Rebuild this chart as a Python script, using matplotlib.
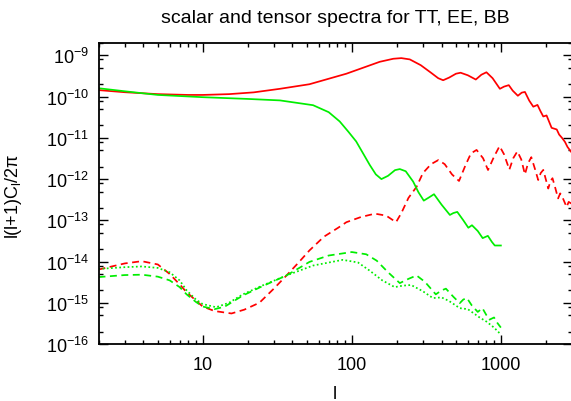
import matplotlib
matplotlib.use("Agg")
import matplotlib.pyplot as plt
import matplotlib.ticker as ticker
import numpy as np

plt.rcParams['font.family'] = ['Liberation Sans', 'DejaVu Sans']
plt.rcParams['mathtext.fontset'] = 'custom'
plt.rcParams['mathtext.rm'] = 'Liberation Sans'
plt.rcParams['mathtext.it'] = 'Liberation Sans:italic'
plt.rcParams['axes.unicode_minus'] = False

# scalar TT (red solid)
l_stt = [2, 3, 5, 8, 10, 15, 22, 33, 52, 92, 154, 190, 215, 245, 290, 340, 380, 410,
         450, 500, 537, 600, 679, 740, 800, 880, 985, 1050, 1130, 1200, 1300, 1380,
         1450, 1550, 1650, 1760, 1840, 1925, 2025, 2190, 2370, 2460, 2570, 2690, 2800, 3000]
c_stt = [1.44e-10, 1.28e-10, 1.15e-10, 1.1e-10, 1.1e-10, 1.15e-10, 1.27e-10, 1.55e-10,
         2.0e-10, 3.6e-10, 7.0e-10, 8.3e-10, 8.6e-10, 8.0e-10, 5.8e-10, 3.8e-10, 2.8e-10,
         2.5e-10, 2.9e-10, 3.6e-10, 3.8e-10, 3.3e-10, 2.6e-10, 3.4e-10, 3.9e-10, 2.8e-10,
         1.55e-10, 1.75e-10, 1.9e-10, 1.4e-10, 1.05e-10, 1.25e-10, 1.3e-10, 8e-11, 5.7e-11,
         6.3e-11, 4.5e-11, 3.3e-11, 3.5e-11, 1.75e-11, 1.6e-11, 1.2e-11, 1.0e-11, 8e-12,
         6e-12, 4.3e-12]

# scalar EE (red dashed)
l_see = [2, 3, 3.9, 5, 6, 7, 7.8, 10, 12, 15.6, 19, 24, 30, 36.5, 44, 52, 65, 81, 92,
         115, 143, 170, 198, 215, 240, 272, 300, 340, 381, 420, 470, 524, 580, 630, 687,
         760, 820, 900, 980, 1050, 1140, 1210, 1290, 1370, 1450, 1520, 1600, 1690, 1780,
         1850, 1925, 2000, 2080, 2150, 2220, 2320, 2420, 2500, 2600, 2760, 2850, 3000]
c_see = [6.4e-15, 9e-15, 1.02e-14, 8.5e-15, 5e-15, 2.8e-15, 1.8e-15, 8.1e-16, 6.3e-16,
         5.5e-16, 6.8e-16, 1.0e-15, 2.2e-15, 4.6e-15, 9.5e-15, 1.86e-14, 4e-14, 6.6e-14,
         9e-14, 1.2e-13, 1.45e-13, 1.3e-13, 9e-14, 1.5e-13, 3.5e-13, 6.5e-13, 1.4e-12,
         2.3e-12, 2.9e-12, 2.3e-12, 1.3e-12, 9e-13, 2.2e-12, 4.2e-12, 5.1e-12, 3.2e-12,
         1.66e-12, 3.5e-12, 6.3e-12, 4e-12, 1.7e-12, 3.2e-12, 4.7e-12, 3e-12, 1.3e-12,
         2.4e-12, 3.4e-12, 1.8e-12, 9.5e-13, 1.4e-12, 1.67e-12, 1e-12, 5.9e-13, 9e-13,
         1.05e-12, 6e-13, 3.4e-13, 4.5e-13, 3.5e-13, 2.1e-13, 2.8e-13, 2.5e-13]

# tensor TT (green solid)
l_ttt = [2, 3, 5, 10, 20, 33, 55, 70, 83, 95, 107, 120, 132, 145, 158, 175, 195, 210,
         230, 258, 280, 304, 330, 356, 400, 455, 480, 510, 560, 605, 640, 700, 755, 818,
         870, 910, 1000]
c_ttt = [1.6e-10, 1.35e-10, 1.1e-10, 9.7e-11, 8.8e-11, 8.1e-11, 6.2e-11, 4.2e-11, 2.5e-11,
         1.4e-11, 8.2e-12, 4e-12, 2.2e-12, 1.3e-12, 1.0e-12, 1.2e-12, 1.65e-12, 1.75e-12,
         1.55e-12, 8.7e-13, 4.8e-13, 3.0e-13, 3.6e-13, 4.3e-13, 2.4e-13, 1.35e-13, 1.5e-13,
         1.6e-13, 1e-13, 6.6e-14, 7.6e-14, 5.5e-14, 3.7e-14, 4.2e-14, 3e-14, 2.45e-14, 2.45e-14]

# tensor EE (green dashed)
l_tee = [2, 3, 3.9, 5, 6, 7, 7.8, 9, 10, 12, 14, 18.6, 25, 36.5, 52, 70, 100, 125, 147,
         175, 210, 240, 272, 310, 366, 400, 428, 480, 530, 560, 592, 640, 700, 752, 800,
         840, 900, 950, 1000]
c_tee = [4.2e-15, 4.7e-15, 4.8e-15, 4.3e-15, 3.5e-15, 2.4e-15, 1.6e-15, 1.05e-15, 8.1e-16,
         7e-16, 8e-16, 1.5e-15, 2.5e-15, 4.6e-15, 9.8e-15, 1.4e-14, 1.7e-14, 1.5e-14,
         1.05e-14, 5.5e-15, 3e-15, 3.8e-15, 4.6e-15, 3.2e-15, 1.6e-15, 2e-15, 2.2e-15,
         1.4e-15, 9.8e-16, 1.2e-15, 1.3e-15, 8.5e-16, 6e-16, 7.4e-16, 5e-16, 3.9e-16,
         4.4e-16, 3.2e-16, 2.5e-16]

# tensor BB (green dotted)
l_tbb = [2, 3, 3.9, 5, 6, 7, 7.8, 9, 10, 12.3, 15, 18.6, 25, 36.5, 55, 87, 110, 132, 160,
         194, 220, 250, 300, 350, 400, 450, 530, 600, 720, 800, 900, 1000]
c_tbb = [6.6e-15, 7.3e-15, 7.6e-15, 7e-15, 5.5e-15, 3.5e-15, 2e-15, 1.2e-15, 9.3e-16,
         7.8e-16, 1e-15, 1.6e-15, 2.6e-15, 4.6e-15, 8e-15, 1.1e-14, 9.5e-15, 6e-15, 3.5e-15,
         2.4e-15, 2.6e-15, 2.7e-15, 1.9e-15, 1.3e-15, 1.35e-15, 1.1e-15, 7.4e-16, 7e-16,
         4.4e-16, 3.5e-16, 2.5e-16, 1.7e-16]

red = '#ff0000'
green = '#00ee00'

fig = plt.figure(figsize=(5.71, 4.02), dpi=100)
ax = fig.add_axes([98.5 / 571, 1 - 345 / 402, (572 - 98.5) / 571, (345 - 44) / 402])

ax.plot(l_stt, c_stt, color=red, lw=1.25)
ax.plot(l_see, c_see, color=red, lw=1.25, ls=(0, (4, 2.6)))
ax.plot(l_ttt, c_ttt, color=green, lw=1.25)
ax.plot(l_tee, c_tee, color=green, lw=1.25, ls=(0, (4, 2.6)))
ax.plot(l_tbb, c_tbb, color=green, lw=1.25, ls=(0, (1, 1.4)))

ax.set_xscale('log')
ax.set_yscale('log')
ax.set_xlim(2, 3000)
ax.set_ylim(1e-16, 2e-9)

ax.xaxis.set_major_locator(ticker.LogLocator(base=10, numticks=10))
ax.xaxis.set_minor_locator(ticker.LogLocator(base=10, subs=np.arange(2, 10), numticks=20))
ax.yaxis.set_major_locator(ticker.LogLocator(base=10, numticks=20))
ax.yaxis.set_minor_locator(ticker.LogLocator(base=10, subs=[2, 5, 8], numticks=20))
ax.xaxis.set_minor_formatter(ticker.NullFormatter())
ax.yaxis.set_minor_formatter(ticker.NullFormatter())
ax.xaxis.set_major_formatter(ticker.FuncFormatter(lambda v, p: '%d' % round(v)))

ax.tick_params(which='both', direction='in', top=True, right=True, labelsize=13, width=1)
ax.tick_params(axis='y', which='major', length=6.5, pad=7)
ax.tick_params(axis='x', which='major', length=6.5, pad=9)
ax.tick_params(which='minor', length=3.2)
for s in ax.spines.values():
    s.set_linewidth(1.3)

ax.set_title('scalar and tensor spectra for TT, EE, BB', fontsize=14, pad=15)
ax.set_xlabel('l', fontsize=13)
ax.set_ylabel(r'l(l+1)C$_\mathrm{l}$/2π', fontsize=13)
ax.xaxis.set_label_coords(0.5, -0.136)
ax.yaxis.set_label_coords(-0.157, 0.495)

fig.savefig('out.png', dpi=100)
